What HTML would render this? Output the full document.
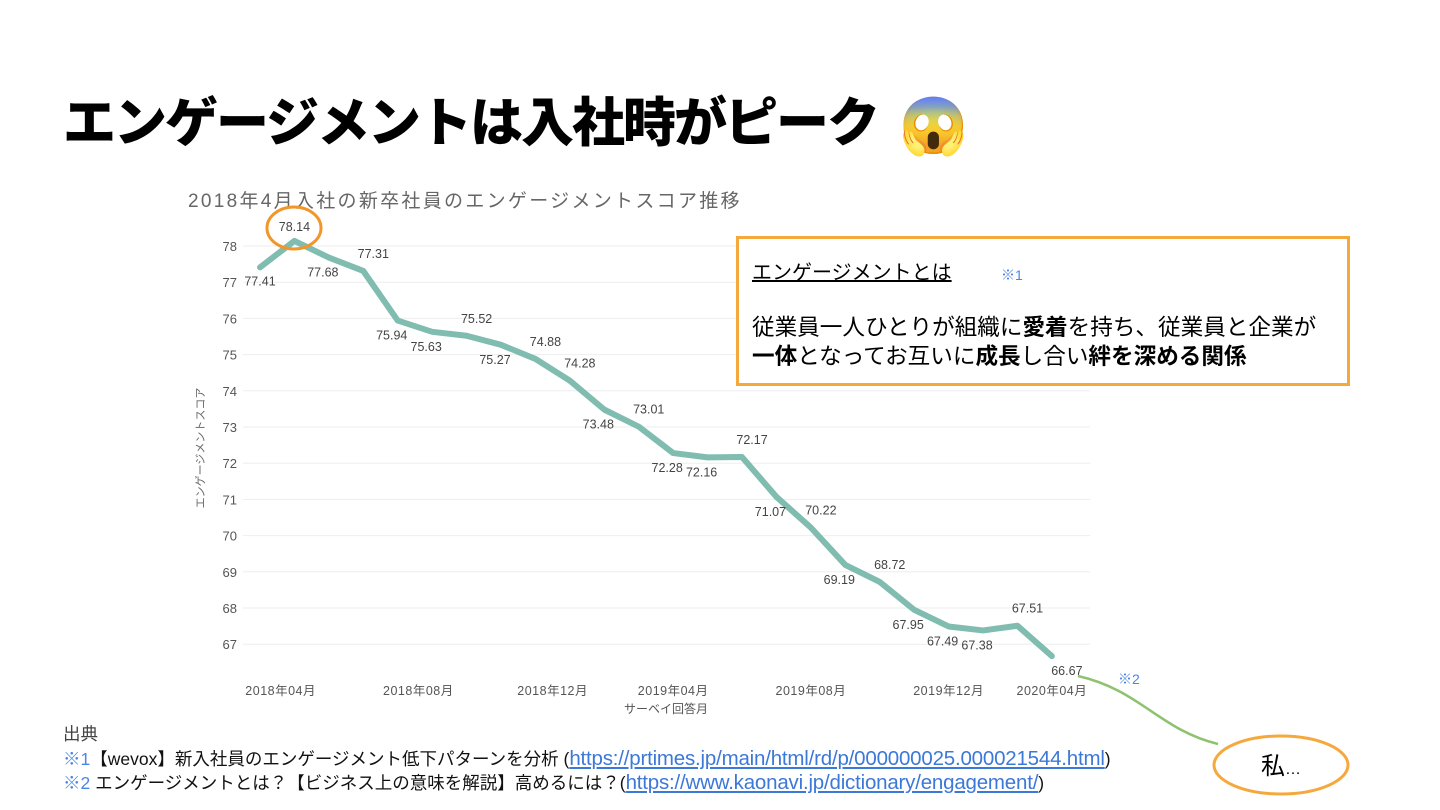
<!DOCTYPE html>
<html><head><meta charset="utf-8">
<style>
body{margin:0;width:1440px;height:810px;background:#fff;overflow:hidden;font-family:"Liberation Sans","Noto Sans CJK JP",sans-serif;position:relative}
.abs{position:absolute}
h1{position:absolute;left:63px;top:81px;margin:0;font-size:53px;font-weight:900;letter-spacing:-2px;color:#000;white-space:nowrap}
.def{left:736px;top:236px;width:614px;height:150px;border:3px solid #f5a93c;box-sizing:border-box;background:#fff}
.foot{left:63px;font-size:17.5px;white-space:nowrap;color:#111}
.blue{color:#4a86e8}
a{color:#3c78d8;text-decoration:underline;font-size:20.5px;letter-spacing:-0.2px}
</style></head><body>
<h1>エンゲージメントは入社時がピーク <span style="font-size:56px;vertical-align:-4px;letter-spacing:0;margin-left:8px">😱</span></h1>

<svg class="abs" style="left:0;top:0" width="1440" height="810" id="chart">
<text x="188" y="207" font-size="19" letter-spacing="2.3" fill="#666">2018年4月入社の新卒社員のエンゲージメントスコア推移</text>
<g id="grid"></g><g id="yt"></g><g id="xt"></g>
<text transform="translate(204,448) rotate(-90)" font-size="11" fill="#666" text-anchor="middle">エンゲージメントスコア</text>
<text x="666" y="713" font-size="12" fill="#555" text-anchor="middle">サーベイ回答月</text>
<path id="line" fill="none" stroke="#80bcb0" stroke-width="6" stroke-linejoin="round" stroke-linecap="round"/>
<g id="lbl"></g>
<ellipse cx="294" cy="228" rx="27" ry="21" fill="none" stroke="#f2962a" stroke-width="3"/>
<path d="M1078 676 C1140 690,1160 730,1218 744" fill="none" stroke="#8dc26e" stroke-width="2.5"/>
<text x="1118" y="684" font-size="14" fill="#4a86e8">※2</text>
<ellipse cx="1281" cy="765" rx="67" ry="29" fill="#fff" stroke="#f5a93c" stroke-width="3"/>
<text x="1281" y="774" font-size="24" text-anchor="middle" fill="#000">私<tspan font-size="16">…</tspan></text>
</svg>

<div class="abs def">
 <div class="abs" style="left:13px;top:17px;font-size:20px;text-decoration:underline">エンゲージメントとは</div>
 <div class="abs blue" style="left:262px;top:26px;font-size:14px">※1</div>
 <div class="abs" style="left:13px;top:74px;font-size:22.6px;line-height:29px;white-space:nowrap">従業員一人ひとりが組織に<b>愛着</b>を持ち、従業員と企業が<br><b>一体</b>となってお互いに<b>成長</b>し合い<b>絆を深める関係</b></div>
</div>

<div class="abs foot" style="top:721px;color:#444">出典</div>
<div class="abs foot" style="top:746px"><span class="blue">※1</span>【wevox】新入社員のエンゲージメント低下パターンを分析 (<a>https://prtimes.jp/main/html/rd/p/000000025.000021544.html</a>)</div>
<div class="abs foot" style="top:770px"><span class="blue">※2</span> エンゲージメントとは？【ビジネス上の意味を解説】高めるには？(<a>https://www.kaonavi.jp/dictionary/engagement/</a>)</div>

<script>
const values=[77.41,78.14,77.68,77.31,75.94,75.63,75.52,75.27,74.88,74.28,73.48,73.01,72.28,72.16,72.17,71.07,70.22,69.19,68.72,67.95,67.49,67.38,67.51,66.67];
const labelSide=['bl','a','b','a','b','b','a','b','a','a','b','a','b','b','a','b','a','b','a','b','b','b','a','br'];
const yTicks=[67,68,69,70,71,72,73,74,75,76,77,78];
const xTickLabels=['2018年04月','2018年08月','2018年12月','2019年04月','2019年08月','2019年12月','2020年04月'];
const xTickIdx=[0.6,4.6,8.5,12,16,20,23];
const NS='http://www.w3.org/2000/svg';
const x=i=>260+i*34.43;
const y=v=>246+(78-v)*36.2;
function mk(tag,attrs,parent,txt){const e=document.createElementNS(NS,tag);for(const k in attrs)e.setAttribute(k,attrs[k]);if(txt!==undefined)e.textContent=txt;document.getElementById(parent).appendChild(e);return e;}
yTicks.forEach(t=>{
 const g=mk('line',{x1:243,x2:1090,y1:y(t),y2:y(t),stroke:'#eee','stroke-width':1},'grid');
 
 
 const l=mk('text',{x:237,y:y(t)+5,'font-size':13,fill:'#555','text-anchor':'end'},'yt',t);
 
 
});
xTickLabels.forEach((s,i)=>{
 const l=mk('text',{x:x(xTickIdx[i]),y:695,'font-size':12.5,'letter-spacing':0.5,fill:'#555','text-anchor':'middle'},'xt',s);
 
 
});
document.getElementById('line').setAttribute('d',values.map((v,i)=>(i?'L':'M')+x(i)+' '+y(v)).join(''));
values.forEach((v,i)=>{
 const s=labelSide[i];let lx=x(i),ly=y(v);
 if(s==='a'){ly-=13;lx+=10;} else if(s==='b'){ly+=19;lx-=6;} else if(s==='bl'){ly+=18;} else {ly+=19;lx+=15;}
 if(i===1){lx=x(i);ly=y(v)-10;}
 const t=mk('text',{x:lx,y:ly,'font-size':12.5,fill:'#444','text-anchor':'middle'},'lbl',v.toFixed(2));
 
 
});
</script>
</body></html>
